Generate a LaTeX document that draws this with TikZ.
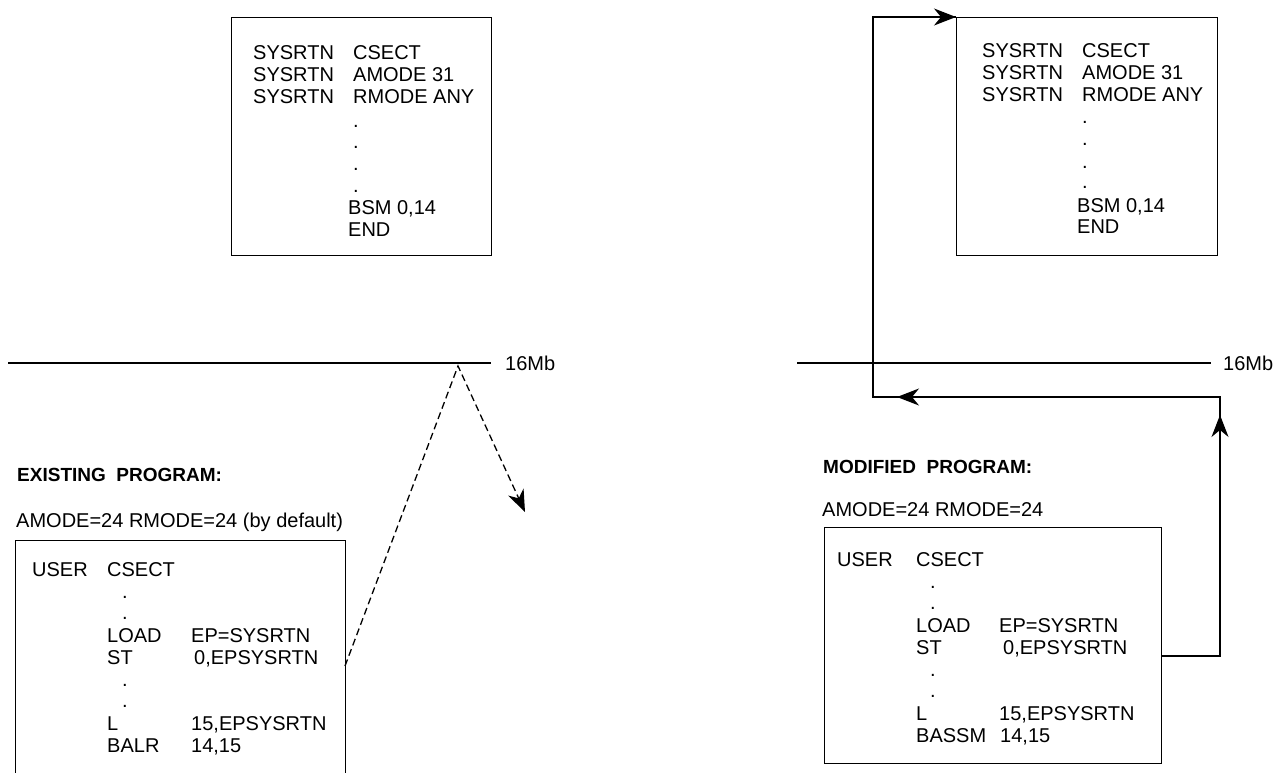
\documentclass[tikz,border=0pt]{standalone}
\usepackage{fontspec}
\setmainfont{Liberation Sans}
\usetikzlibrary{arrows.meta}
\newcommand{\codefont}{\fontsize{20}{22}\selectfont}
\newcommand{\headfont}{\fontsize{19}{22}\selectfont\bfseries}
\newcommand{\col}[2]{\makebox[#1pt][l]{#2}}

\begin{document}
\begin{tikzpicture}[x=1pt,y=-1pt,
  code/.style={anchor=base west,inner sep=0pt,font=\codefont},
  head/.style={anchor=base west,inner sep=0pt,font=\headfont},
  codebox/.style={draw,line width=1.3pt,anchor=north west,inner sep=0pt},
  wire/.style={line width=1.3pt},
  tip/.style={-{Stealth[length=22pt,width=17pt,inset=7pt]}},
  dashwire/.style={line width=1.3pt,dash pattern=on 7pt off 4pt}]
\useasboundingbox (0,0) rectangle (1288,773);
\fill[white] (0,0) rectangle (1288,773);
% boxes
\node[codebox,minimum width=260pt,minimum height=238pt] (ltopbox) at (231,17) {};
\node[codebox,minimum width=261pt,minimum height=238pt] (rtopbox) at (956,17) {};
\node[codebox,minimum width=330pt,minimum height=260pt] (lbotbox) at (15,540) {};
\node[codebox,minimum width=337pt,minimum height=236pt] (rbotbox) at (824,527) {};
% left top
\node[code] (lsys1) at (253,60) {\col{100}{SYSRTN}CSECT};
\node[code] (lsys2) at (253,82) {\col{100}{SYSRTN}AMODE 31};
\node[code] (lsys3) at (253,104) {\col{100}{SYSRTN}RMODE ANY};
\node[code] (ltdot1) at (353,128) {.};
\node[code] (ltdot2) at (353,149) {.};
\node[code] (ltdot3) at (353,171) {.};
\node[code] (ltdot4) at (353,193) {.};
\node[code] (lbsm) at (348,214) {BSM 0,14};
\node[code] (lend) at (348,236) {END};
% right top
\node[code] (rsys1) at (982,58) {\col{100}{SYSRTN}CSECT};
\node[code] (rsys2) at (982,80) {\col{100}{SYSRTN}AMODE 31};
\node[code] (rsys3) at (982,102) {\col{100}{SYSRTN}RMODE ANY};
\node[code] (rtdot1) at (1082,124) {.};
\node[code] (rtdot2) at (1082,146) {.};
\node[code] (rtdot3) at (1082,168) {.};
\node[code] (rtdot4) at (1082,189) {.};
\node[code] (rbsm) at (1077,212) {BSM 0,14};
\node[code] (rend) at (1077,233) {END};
% 16Mb lines
\coordinate (lmb0) at (8,363);
\coordinate (lmb1) at (491,363);
\node[code] (lmb) at (505,370) {16Mb};
\coordinate (rmb0) at (797,363);
\coordinate (rmb1) at (1211,363);
\node[code] (rmb) at (1223,370) {16Mb};
\draw[line width=1.1pt] (lmb0) -- (lmb1);
\draw[line width=1.1pt] (rmb0) -- (rmb1);
% left program
\node[head] (lhead) at (17,481) {EXISTING\ \ PROGRAM:};
\node[code] (lmode) at (16,527) {AMODE=24 RMODE=24 (by default)};
\node[code] (luser) at (32,576) {\col{75}{USER}CSECT};
\node[code] (lbdot1) at (122,598) {.};
\node[code] (lbdot2) at (122,619) {.};
\node[code] (lload) at (107,642) {\col{84}{LOAD}EP=SYSRTN};
\node[code] (lst) at (107,664) {\col{87}{ST}0,EPSYSRTN};
\node[code] (lbdot3) at (122,686) {.};
\node[code] (lbdot4) at (122,707) {.};
\node[code] (ll) at (107,730) {\col{84}{L}15,EPSYSRTN};
\node[code] (lbalr) at (107,752) {\col{84}{BALR}14,15};
% right program
\node[head] (rhead) at (823,473) {MODIFIED\ \ PROGRAM:};
\node[code] (rmode) at (822,516) {AMODE=24 RMODE=24};
\node[code] (ruser) at (837,566) {\col{79}{USER}CSECT};
\node[code] (rbdot1) at (930,588) {.};
\node[code] (rbdot2) at (930,609) {.};
\node[code] (rload) at (916,632) {\col{83}{LOAD}EP=SYSRTN};
\node[code] (rst) at (916,654) {\col{87}{ST}0,EPSYSRTN};
\node[code] (rbdot3) at (930,676) {.};
\node[code] (rbdot4) at (930,697) {.};
\node[code] (rl) at (916,720) {\col{83}{L}15,EPSYSRTN};
\node[code] (rbassm) at (916,742) {\col{84}{BASSM}14,15};
% old call goes nowhere
\coordinate (lout) at (345,666);
\coordinate (lpeak) at (458,366);
\coordinate (ldrop) at (525,512);
\draw[dashwire,tip] (lout) -- (lpeak) -- (ldrop);
% new call reaches SYSRTN
\coordinate (rturn) at (1220,656);
\coordinate (rtipup) at (1220,415);
\coordinate (rtop) at (1220,397);
\coordinate (rtipleft) at (897,397);
\coordinate (rleft) at (873,397);
\coordinate (rup) at (873,17);
\draw[wire] (rbotbox.east |- rturn) -- (rturn) -- (rtop) -- (rleft) -- (rup) -- (rtopbox.north west);
\draw[wire,tip] (rturn) -- (rtipup);
\draw[wire,tip] (rtop) -- (rtipleft);
\draw[wire,tip] (rup) -- (rtopbox.north west);
\end{tikzpicture}
\end{document}
